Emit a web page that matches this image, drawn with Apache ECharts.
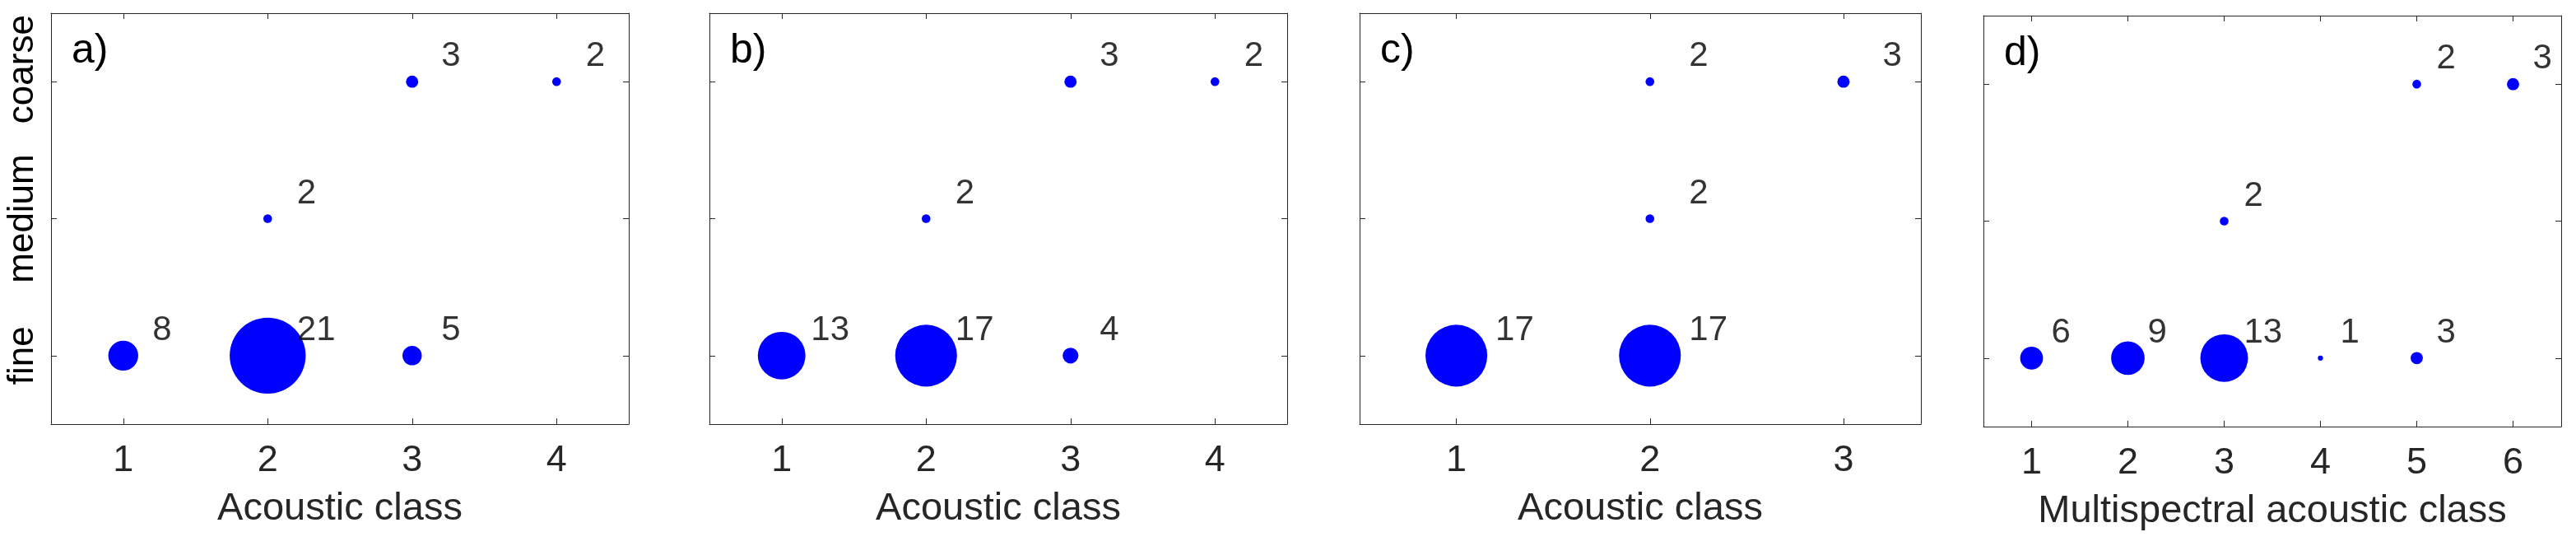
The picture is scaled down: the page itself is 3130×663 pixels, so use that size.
<!DOCTYPE html>
<html>
<head>
<meta charset="utf-8">
<script src="https://cdn.jsdelivr.net/npm/echarts@6/dist/echarts.min.js"></script>
<style>
html, body { margin: 0; padding: 0; background: #fff; }
#chart { width: 3130px; height: 663px; }
</style>
</head>
<body>
<div id="chart"></div>
<script>
// sediment levels on the y axis (1 = fine, 2 = medium, 3 = coarse)
const levels = ['fine', 'medium', 'coarse'];

// a) acoustic class
const classA = [1, 2, 3, 2, 3, 4];
const levelA = ['fine', 'fine', 'fine', 'medium', 'coarse', 'coarse'];
const countA = [8, 21, 5, 2, 3, 2];

// b) acoustic class
const classB = [1, 2, 3, 2, 3, 4];
const levelB = ['fine', 'fine', 'fine', 'medium', 'coarse', 'coarse'];
const countB = [13, 17, 4, 2, 3, 2];

// c) acoustic class
const classC = [1, 2, 2, 2, 3];
const levelC = ['fine', 'fine', 'medium', 'coarse', 'coarse'];
const countC = [17, 17, 2, 2, 3];

// d) multispectral acoustic class
const classD = [1, 2, 3, 4, 5, 3, 5, 6];
const levelD = ['fine', 'fine', 'fine', 'fine', 'fine', 'medium', 'coarse', 'coarse'];
const countD = [6, 9, 13, 1, 3, 2, 2, 3];

const xTicksA = [1, 2, 3, 4];
const xTicksB = [1, 2, 3, 4];
const xTicksC = [1, 2, 3];
const xTicksD = [1, 2, 3, 4, 5, 6];
const yTicks = [1, 2, 3];

const xTitles = ['Acoustic class', 'Acoustic class', 'Acoustic class', 'Multispectral acoustic class'];
const panelLetters = ['a)', 'b)', 'c)', 'd)'];

const panels = [
    { cls: classA, lvl: levelA, cnt: countA, ticks: xTicksA },
    { cls: classB, lvl: levelB, cnt: countB, ticks: xTicksB },
    { cls: classC, lvl: levelC, cnt: countC, ticks: xTicksC },
    { cls: classD, lvl: levelD, cnt: countD, ticks: xTicksD }
];

// plot boxes in pixels
const boxes = [
    { left: 62, top: 16, width: 702, height: 499, xMax: 4.5 },
    { left: 862, top: 16, width: 702, height: 499, xMax: 4.5 },
    { left: 1652, top: 16, width: 682, height: 499, xMax: 3.4 },
    { left: 2410, top: 19, width: 702, height: 499, xMax: 6.5 }
];

const FONT = 'Liberation Sans';
const axisColor = '#262626';

let grid = [], xAxis = [], yAxis = [], series = [], title = [];

panels.forEach(function (p, i) {
    const b = boxes[i];
    grid.push({ left: b.left, top: b.top, width: b.width, height: b.height });
    title.push({
        text: panelLetters[i],
        left: b.left + 20,
        top: b.top + 16,
        textStyle: { fontFamily: FONT, fontSize: 50, fontWeight: 'normal', color: '#000' }
    });

    // bottom & top x axes
    xAxis.push({
        type: 'value', gridIndex: i, min: 0.5, max: b.xMax, position: 'bottom',
        splitLine: { show: false },
        axisLine: { show: true, lineStyle: { color: axisColor, width: 1 } },
        axisTick: { show: true, inside: true, length: 7, customValues: p.ticks, lineStyle: { color: axisColor } },
        axisLabel: { show: true, customValues: p.ticks, margin: 22, fontFamily: FONT, fontSize: 45, color: axisColor },
        name: xTitles[i], nameLocation: 'middle', nameGap: 80,
        nameTextStyle: { fontFamily: FONT, fontSize: 47, color: axisColor }
    });
    xAxis.push({
        type: 'value', gridIndex: i, min: 0.5, max: b.xMax, position: 'top',
        splitLine: { show: false },
        axisLine: { show: true, lineStyle: { color: axisColor, width: 1 } },
        axisTick: { show: true, inside: true, length: 7, customValues: p.ticks, lineStyle: { color: axisColor } },
        axisLabel: { show: false }
    });

    // left & right y axes; only panel a) names the levels
    yAxis.push({
        type: 'value', gridIndex: i, min: 0.5, max: 3.5, position: 'left',
        splitLine: { show: false },
        axisLine: { show: true, lineStyle: { color: axisColor, width: 1 } },
        axisTick: { show: true, inside: true, length: 7, customValues: yTicks, lineStyle: { color: axisColor } },
        axisLabel: {
            show: i === 0, customValues: yTicks, rotate: 90, margin: 12,
            fontFamily: FONT, fontSize: 44, color: '#000',
            formatter: function (v) {
                const name = levels[Math.round(v) - 1];
                return name === 'coarse' ? '{up|' + name + '}' : name;
            },
            rich: { up: { fontFamily: FONT, fontSize: 44, color: '#000', padding: [0, 0, 0, 30] } }
        }
    });
    yAxis.push({
        type: 'value', gridIndex: i, min: 0.5, max: 3.5, position: 'right',
        splitLine: { show: false },
        axisLine: { show: true, lineStyle: { color: axisColor, width: 1 } },
        axisTick: { show: true, inside: true, length: 7, customValues: yTicks, lineStyle: { color: axisColor } },
        axisLabel: { show: false }
    });

    const pts = p.cls.map(function (c, k) {
        return [c, levels.indexOf(p.lvl[k]) + 1, p.cnt[k]];
    });

    series.push({
        type: 'scatter', xAxisIndex: 2 * i, yAxisIndex: 2 * i,
        data: pts,
        symbol: 'circle',
        symbolSize: function (v) { return 4.3 * v[2] + 2; },
        itemStyle: { color: '#0000ff', opacity: 1 },
        silent: true, clip: false, z: 2
    });
    // count labels, placed 0.2 units up and right of each point
    series.push({
        type: 'scatter', xAxisIndex: 2 * i, yAxisIndex: 2 * i,
        data: pts.map(function (d) { return [d[0] + 0.2, d[1] + 0.2, d[2]]; }),
        symbolSize: 1,
        itemStyle: { color: 'rgba(0,0,0,0)' },
        label: {
            show: true, position: 'right', distance: 0, offset: [0, 3],
            formatter: function (q) { return q.value[2]; },
            fontFamily: FONT, fontSize: 42, color: '#000'
        },
        silent: true, clip: false, z: 5
    });
});

const chart = echarts.init(document.getElementById('chart'));
chart.setOption({
    backgroundColor: '#fff',
    animation: false,
    title: title,
    grid: grid,
    xAxis: xAxis,
    yAxis: yAxis,
    series: series
});
</script>
</body>
</html>
